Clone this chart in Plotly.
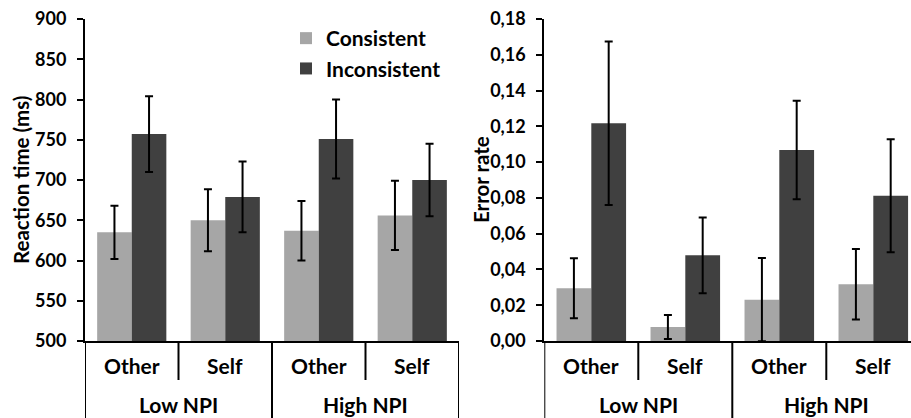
import plotly.graph_objects as go

# Conditions along the x axis and the NPI groups they belong to
conditions = ["Other", "Self", "Other", "Self"]
groups = ["Low NPI", "High NPI"]
series_names = ["Consistent", "Inconsistent"]

# Reaction time (ms): means and error-bar half widths
rt_consistent = [635, 650, 637, 656]
rt_consistent_err = [33, 38.5, 37, 43]
rt_inconsistent = [757, 679, 751, 700]
rt_inconsistent_err = [47, 44, 49, 45]

# Error rate: means and error-bar half widths
er_consistent = [0.0295, 0.0078, 0.0231, 0.0317]
er_consistent_err = [0.0168, 0.0067, 0.0233, 0.0197]
er_inconsistent = [0.1217, 0.0479, 0.1068, 0.0812]
er_inconsistent_err = [0.0457, 0.0212, 0.0275, 0.0316]

rt_ticks = [500, 550, 600, 650, 700, 750, 800, 850, 900]
er_ticks = [0.00, 0.02, 0.04, 0.06, 0.08, 0.10, 0.12, 0.14, 0.16, 0.18]

W, H = 911, 418
FONT = "Lato"
colors = ["#a6a6a6", "#404040"]
positions = list(range(len(conditions)))

fig = go.Figure()

def add_bars(values, errors, name, color, xa, ya, show):
    fig.add_trace(go.Bar(
        x=positions, y=values, name=name, marker=dict(color=color, line=dict(width=0)),
        error_y=dict(type="data", array=errors, color="black", thickness=2, width=4),
        xaxis=xa, yaxis=ya, showlegend=show, offsetgroup=name,
    ))

add_bars(rt_consistent, rt_consistent_err, series_names[0], colors[0], "x", "y", True)
add_bars(rt_inconsistent, rt_inconsistent_err, series_names[1], colors[1], "x", "y", True)
add_bars(er_consistent, er_consistent_err, series_names[0], colors[0], "x2", "y2", False)
add_bars(er_inconsistent, er_inconsistent_err, series_names[1], colors[1], "x2", "y2", False)

# Plot-area geometry in pixels
left_x0, left_x1 = 85, 459
right_x0 = 544.3
cat_w_right = 94.0
plot_top, plot_bottom = 19, 341
ydom = [(H - plot_bottom) / H, (H - plot_top) / H]
right_max = -0.5 + (W - right_x0) / cat_w_right

axis_common = dict(showline=True, linecolor="black", linewidth=2, showgrid=False,
                   zeroline=False, automargin=False)
xaxis_common = dict(axis_common, showticklabels=False, ticks="", fixedrange=True)
yaxis_common = dict(axis_common, ticks="outside", ticklen=6, tickwidth=2,
                    tickcolor="black", ticklabelstandoff=7,
                    tickfont=dict(family=FONT, size=18, color="black", weight="bold"))

fig.update_layout(
    width=W, height=H, margin=dict(l=0, r=0, t=0, b=0, autoexpand=False),
    paper_bgcolor="white", plot_bgcolor="white",
    barmode="group", bargap=0.26, bargroupgap=0,
    separators=",.",
    xaxis=dict(xaxis_common, domain=[left_x0 / W, left_x1 / W], range=[-0.5, 3.5]),
    yaxis=dict(yaxis_common, domain=ydom, range=[500, 900], tickvals=rt_ticks),
    xaxis2=dict(xaxis_common, domain=[right_x0 / W, 1.0], range=[-0.5, right_max]),
    yaxis2=dict(yaxis_common, domain=ydom, range=[0, 0.18], tickvals=er_ticks,
                tickformat=".2f", anchor="x2"),
    legend=dict(x=286 / W, y=1 - 18 / H, xanchor="left", yanchor="top",
                bgcolor="rgba(0,0,0,0)",
                font=dict(family=FONT, size=21, color="black", weight="bold")),
    font=dict(family=FONT, color="black"),
)

lab_font = dict(family=FONT, size=21, color="black", weight="bold")
title_font = dict(family=FONT, size=20.5, color="black", weight="bold")
y_axis_bottom = ydom[0]
cond_y = (H - 365) / H
group_y = (H - 404) / H
short_div = (H - 380) / H

annotations = []
shapes = []
for xref in ["x", "x2"]:
    for i, c in enumerate(conditions):
        annotations.append(dict(x=positions[i], y=cond_y, xref=xref, yref="paper", text=c,
                                showarrow=False, xanchor="center", yanchor="middle",
                                font=lab_font))
    for g, name in enumerate(groups):
        annotations.append(dict(x=positions[2 * g] + 0.5, y=group_y, xref=xref, yref="paper",
                                text=name, showarrow=False, xanchor="center",
                                yanchor="middle", font=lab_font))
    # Divider lines below the category axis
    for xv, y0 in [(-0.5, 0), (0.5, short_div), (1.5, 0), (2.5, short_div), (3.5, 0)]:
        if xref == "x2" and xv > right_max:
            continue
        shapes.append(dict(type="line", xref=xref, yref="paper", x0=xv, x1=xv,
                           y0=y0, y1=y_axis_bottom, line=dict(color="black", width=2)))

# Axis titles
annotations.append(dict(x=21 / W, y=(H - 180) / H, xref="paper", yref="paper",
                        text="Reaction time (ms)", textangle=-90, showarrow=False,
                        xanchor="center", yanchor="middle", font=title_font))
annotations.append(dict(x=481 / W, y=(H - 179) / H, xref="paper", yref="paper",
                        text="Error rate", textangle=-90, showarrow=False,
                        xanchor="center", yanchor="middle", font=title_font))

fig.update_layout(annotations=annotations, shapes=shapes)
fig.write_html("out.html")
